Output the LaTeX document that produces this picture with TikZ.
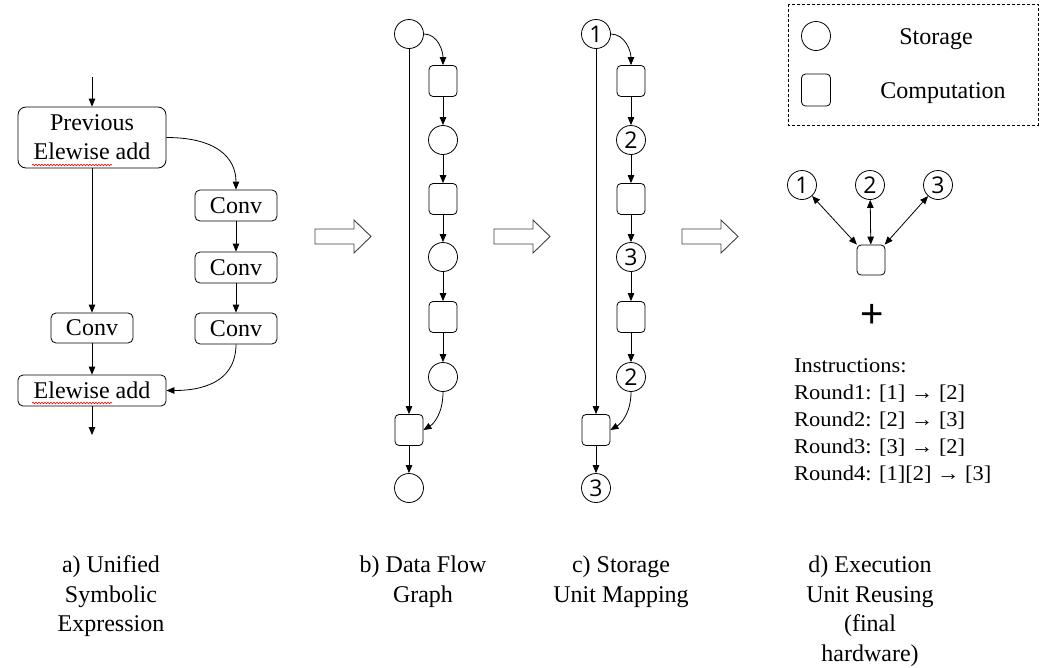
\documentclass[tikz,border=0pt]{standalone}
\usepackage{fontspec}
\setmainfont{Liberation Serif}
\newfontfamily\numfont{Open Sans}
\newfontfamily\plusfont{Liberation Sans}
\newfontfamily\insfont[FakeStretch=1.07]{Liberation Serif}
\usetikzlibrary{arrows.meta,decorations.pathmorphing}
\begin{document}
\begin{tikzpicture}[x=1pt,y=-1pt,
  lw/.style={line width=0.8pt},
  arr/.style={lw,-{Triangle[length=8pt,width=6.5pt]}},
  darr/.style={lw,{Triangle[length=8pt,width=6.5pt]}-{Triangle[length=8pt,width=6.5pt]}},
  opbox/.style={draw,lw,rounded corners=5pt,font=\fontsize{24}{29}\selectfont,align=center,inner sep=0pt},
  stor/.style={draw,lw,circle,minimum size=29pt,inner sep=0pt,font=\numfont\fontsize{23}{23}\selectfont},
  comp/.style={draw,lw,rounded corners=4pt,minimum width=28pt,minimum height=31pt,inner sep=0pt},
  capline/.style={anchor=base,inner sep=0pt,font=\fontsize{24}{29}\selectfont},
  insline/.style={anchor=base west,inner sep=0pt,font=\insfont\fontsize{21}{26}\selectfont},
  hollow/.style={line width=0.9pt,draw=black!75},
  squig/.style={draw=red,line width=0.6pt,decorate,decoration={snake,segment length=3pt,amplitude=0.8pt}}
]
\useasboundingbox (0,0) rectangle (1041,667);

% ---------- panel a ----------
\node[opbox,rounded corners=8pt,minimum width=148pt,minimum height=61pt] (prev) at (92,137.5) {Previous\\Elewise add};
\node[opbox,minimum width=82pt,minimum height=30pt] (convl) at (92,328) {Conv};
\node[opbox,minimum width=148pt,minimum height=31pt] (add) at (92,390.5) {Elewise add};
\node[opbox,minimum width=82pt,minimum height=31pt] (conv1) at (236,205.5) {Conv};
\node[opbox,minimum width=82pt,minimum height=31pt] (conv2) at (236,267.5) {Conv};
\node[opbox,minimum width=82pt,minimum height=31pt] (conv3) at (236,328.5) {Conv};
\coordinate (ain) at (92,77);
\coordinate (aout) at (92,435);
\draw[arr] (ain) -- (prev);
\draw[arr] (prev) -- (convl);
\draw[arr] (convl) -- (add);
\draw[arr] (add) -- (aout);
\draw[arr] (prev.east) .. controls +(50,0) and +(0,-32) .. (conv1.north);
\draw[arr] (conv1) -- (conv2);
\draw[arr] (conv2) -- (conv3);
\draw[arr] (conv3.south) .. controls +(0,32) and +(45,0) .. (add.east);
\draw[squig] (32,165) -- (112,165);
\draw[squig] (32,403) -- (112,403);

% ---------- hollow arrows ----------
\foreach \x in {315,494,682}{
  \draw[hollow] (\x,229) -- (\x+39,229) -- (\x+39,220) -- (\x+56,236.5) -- (\x+39,253) -- (\x+39,244) -- (\x,244) -- cycle;
}

% ---------- panel b ----------
\node[stor] (bs1) at (409,34) {};
\node[comp] (br1) at (443,81) {};
\node[stor] (bs2) at (443,140) {};
\node[comp] (br2) at (443,199) {};
\node[stor] (bs3) at (443,257) {};
\node[comp] (br3) at (443,317) {};
\node[stor] (bs4) at (443,377) {};
\node[comp] (brb) at (409,430) {};
\node[stor] (bsb) at (409,488) {};
\draw[arr] (bs1.east) .. controls +(14,0) and +(0,-14) .. (br1.north);
\draw[arr] (br1) -- (bs2);
\draw[arr] (bs2) -- (br2);
\draw[arr] (br2) -- (bs3);
\draw[arr] (bs3) -- (br3);
\draw[arr] (br3) -- (bs4);
\draw[arr] (bs4.south) .. controls +(0,22) and +(10,-6) .. (brb.east);
\draw[arr] (bs1) -- (brb);
\draw[arr] (brb) -- (bsb);

% ---------- panel c ----------
\node[stor] (cs1) at (596,34) {1};
\node[comp] (cr1) at (631,81) {};
\node[stor] (cs2) at (631,140) {2};
\node[comp] (cr2) at (631,199) {};
\node[stor] (cs3) at (631,257) {3};
\node[comp] (cr3) at (631,317) {};
\node[stor] (cs4) at (631,377) {2};
\node[comp] (crb) at (596,430) {};
\node[stor] (csb) at (596,488) {3};
\draw[arr] (cs1.east) .. controls +(14,0) and +(0,-14) .. (cr1.north);
\draw[arr] (cr1) -- (cs2);
\draw[arr] (cs2) -- (cr2);
\draw[arr] (cr2) -- (cs3);
\draw[arr] (cs3) -- (cr3);
\draw[arr] (cr3) -- (cs4);
\draw[arr] (cs4.south) .. controls +(0,22) and +(10,-6) .. (crb.east);
\draw[arr] (cs1) -- (crb);
\draw[arr] (crb) -- (csb);

% ---------- panel d ----------
\draw[lw,dash pattern=on 3pt off 2pt] (788,4) rectangle (1038,125);
\node[stor] (lgs) at (816,36) {};
\node[comp,minimum width=29pt,minimum height=32pt] (lgc) at (816,90) {};
\node[capline] (lgst) at (936,44) {Storage};
\node[capline] (lgct) at (943,98) {Computation};

\node[stor] (d1) at (802,185) {1};
\node[stor] (d2) at (870,185) {2};
\node[stor] (d3) at (938,185) {3};
\node[comp,minimum height=30pt] (dsq) at (871,260) {};
\draw[darr] (d1) -- (dsq);
\draw[darr] (d2) -- (dsq);
\draw[darr] (d3) -- (dsq);
\node[inner sep=0pt,font=\plusfont\fontsize{40}{40}\selectfont] (plus) at (872,316) {+};

\node[insline] (i0) at (794,372) {Instructions:};
\node[insline] (i1) at (794,399) {Round1: [1] → [2]};
\node[insline] (i2) at (794,426) {Round2: [2] → [3]};
\node[insline] (i3) at (794,453) {Round3: [3] → [2]};
\node[insline] (i4) at (794,480) {Round4: [1][2] → [3]};

% ---------- captions ----------
\node[capline] (ca1) at (111,572) {a) Unified};
\node[capline] (ca2) at (111,602) {Symbolic};
\node[capline] (ca3) at (111,631) {Expression};
\node[capline] (cb1) at (423,572) {b) Data Flow};
\node[capline] (cb2) at (423,602) {Graph};
\node[capline] (cc1) at (621,572) {c) Storage};
\node[capline] (cc2) at (621,602) {Unit Mapping};
\node[capline] (cd1) at (870,572) {d) Execution};
\node[capline] (cd2) at (870,602) {Unit Reusing};
\node[capline] (cd3) at (870,631) {(final};
\node[capline] (cd4) at (870,661) {hardware)};
\end{tikzpicture}
\end{document}
